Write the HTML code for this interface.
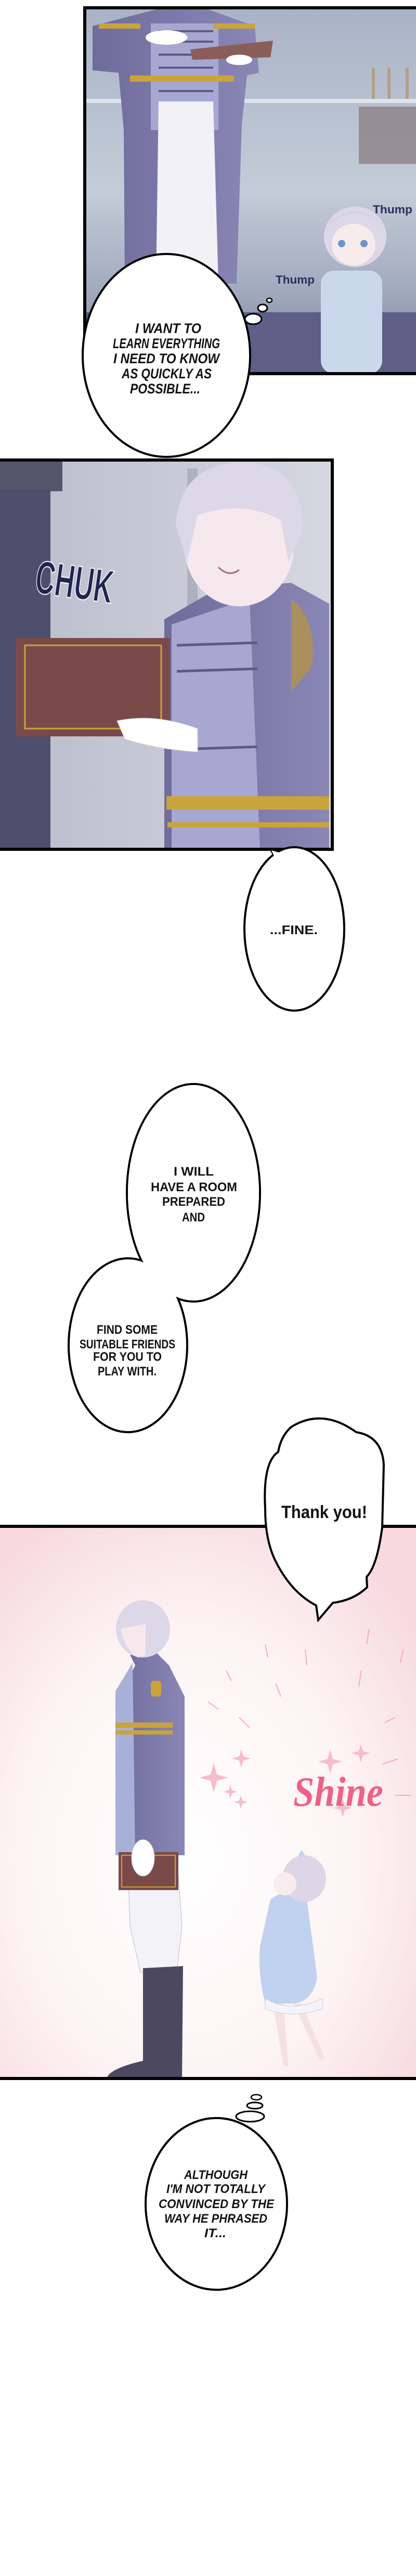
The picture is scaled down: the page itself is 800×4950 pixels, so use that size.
<!DOCTYPE html>
<html><head><meta charset="utf-8"><style>
html,body{margin:0;padding:0;background:#fff;width:800px;height:4950px;overflow:hidden}
svg{display:block}
text{font-family:"Liberation Sans",sans-serif;font-weight:bold;fill:#111}
</style></head><body>
<svg width="800" height="4950" viewBox="0 0 800 4950" xmlns="http://www.w3.org/2000/svg">
<defs>
<linearGradient id="bg1" x1="0" y1="0" x2="0" y2="1"><stop offset="0" stop-color="#a9b3c6"/><stop offset="0.5" stop-color="#c4ccd9"/><stop offset="0.8" stop-color="#9ea6bb"/><stop offset="1" stop-color="#6f7596"/></linearGradient>
<linearGradient id="bg2" x1="0" y1="0" x2="1" y2="0"><stop offset="0" stop-color="#b8bccb"/><stop offset="1" stop-color="#d6d8e0"/></linearGradient>
<radialGradient id="bg3" cx="0.45" cy="0.6" r="0.7"><stop offset="0" stop-color="#ffffff"/><stop offset="0.6" stop-color="#fdf3f4"/><stop offset="1" stop-color="#f7d9de"/></radialGradient>
<linearGradient id="coat" x1="0" y1="0" x2="1" y2="0"><stop offset="0" stop-color="#6f6c9c"/><stop offset="1" stop-color="#8a87b6"/></linearGradient>
</defs>

<!-- Panel 1 -->
<rect x="163" y="15" width="640" height="703" fill="url(#bg1)"/>
<rect x="163" y="190" width="640" height="8" fill="#dfe3ea"/>
<g fill="#b59f88"><rect x="715" y="130" width="6" height="60"/><rect x="745" y="130" width="6" height="60"/><rect x="780" y="130" width="6" height="60"/></g>
<rect x="690" y="205" width="110" height="110" fill="#7b6a6a" opacity="0.6"/>
<rect x="163" y="600" width="640" height="118" fill="#5e5f86"/>
<!-- man panel1 -->
<path d="M178 50 L300 18 L400 18 L490 50 L498 140 L475 145 L465 240 L455 545 L240 545 L238 250 L228 140 L178 135 Z" fill="url(#coat)"/>
<path d="M290 45 L420 45 L420 250 L290 250 Z" fill="#a7a8d2"/>
<g fill="#c9a43a"><rect x="250" y="145" width="200" height="12"/><rect x="190" y="45" width="80" height="10"/><rect x="410" y="45" width="80" height="10"/></g>
<g stroke="#5d5a85" stroke-width="4"><line x1="305" y1="60" x2="410" y2="60"/><line x1="305" y1="80" x2="410" y2="80"/><line x1="305" y1="105" x2="410" y2="105"/><line x1="305" y1="130" x2="410" y2="130"/><line x1="305" y1="175" x2="410" y2="175"/></g>
<path d="M305 195 L410 195 L420 545 L300 545 Z" fill="#f2f1f6"/>
<path d="M366 95 L525 78 L520 110 L370 115 Z" fill="#8a5e58"/>
<ellipse cx="320" cy="72" rx="40" ry="14" fill="#fff"/>
<ellipse cx="460" cy="115" rx="25" ry="10" fill="#fff"/>
<!-- girl -->
<rect x="617" y="520" width="118" height="198" rx="25" fill="#cad8ec"/>
<ellipse cx="683" cy="455" rx="60" ry="58" fill="#ddd8e8"/>
<ellipse cx="680" cy="470" rx="42" ry="40" fill="#f7ebec"/>
<path d="M625 440 Q683 380 745 440 Q720 410 683 405 Q645 410 625 440Z" fill="#d4cfe2"/>
<circle cx="657" cy="468" r="7" fill="#6d94c8"/><circle cx="700" cy="468" r="7" fill="#6d94c8"/>
<rect x="163" y="15" width="640" height="703" fill="none" stroke="#000" stroke-width="6"/>
<text x="530" y="545" font-size="22" style="fill:#2a2e5a" textLength="75" lengthAdjust="spacingAndGlyphs">Thump</text>
<text x="717" y="410" font-size="22" style="fill:#2a2e5a" textLength="76" lengthAdjust="spacingAndGlyphs">Thump</text>

<!-- Bubble 1 -->
<ellipse cx="320" cy="683" rx="161" ry="195" fill="#fff" stroke="#000" stroke-width="4"/>
<ellipse cx="487" cy="613" rx="16" ry="10" fill="#fff" stroke="#000" stroke-width="3"/>
<ellipse cx="505" cy="592" rx="9" ry="7" fill="#fff" stroke="#000" stroke-width="3"/>
<ellipse cx="518" cy="577" rx="5" ry="4" fill="#fff" stroke="#000" stroke-width="2.5"/>
<g font-style="italic" font-size="27" text-anchor="start">
<text x="260" y="640" textLength="127" lengthAdjust="spacingAndGlyphs">I WANT TO</text>
<text x="217" y="669" textLength="206" lengthAdjust="spacingAndGlyphs">LEARN EVERYTHING</text>
<text x="218" y="698" textLength="204" lengthAdjust="spacingAndGlyphs">I NEED TO KNOW</text>
<text x="234" y="727" textLength="173" lengthAdjust="spacingAndGlyphs">AS QUICKLY AS</text>
<text x="250" y="756" textLength="135" lengthAdjust="spacingAndGlyphs">POSSIBLE...</text>
</g>

<!-- Panel 2 -->
<rect x="-5" y="884" width="644" height="748" fill="url(#bg2)"/>
<rect x="0" y="884" width="120" height="60" fill="#55566e"/>
<rect x="0" y="940" width="97" height="692" fill="#4e4f6c"/>
<rect x="360" y="900" width="20" height="732" fill="#aeb1c0"/>
<path d="M316 1190 L420 1130 L560 1120 L633 1160 L633 1632 L316 1632 Z" fill="url(#coat)"/>
<path d="M330 1200 L480 1150 L500 1632 L330 1632 Z" fill="#a7a8d2"/>
<g fill="#c9a43a"><rect x="320" y="1530" width="313" height="26"/><rect x="322" y="1580" width="311" height="10"/></g>
<g stroke="#5d5a85" stroke-width="5"><line x1="340" y1="1240" x2="495" y2="1235"/><line x1="340" y1="1290" x2="495" y2="1285"/><line x1="340" y1="1440" x2="495" y2="1435"/></g>
<path d="M560 1150 Q610 1190 600 1280 L560 1330 Z" fill="#b9953a" opacity="0.7"/>
<ellipse cx="460" cy="1050" rx="105" ry="115" fill="#f6e9ee"/>
<path d="M338 1010 Q345 890 470 888 Q585 895 582 1020 L555 1080 L540 1000 Q470 960 380 990 L360 1080 Z" fill="#dcd8e8"/>
<path d="M420 1090 Q440 1110 460 1095" stroke="#a56a78" stroke-width="3" fill="none"/>
<rect x="31" y="1226" width="296" height="189" fill="#7a4a4a"/>
<rect x="48" y="1240" width="262" height="160" fill="none" stroke="#c9a43a" stroke-width="3"/>
<path d="M225 1385 Q300 1370 380 1400 L380 1445 Q300 1440 240 1420 Z" fill="#fff" stroke="#ccc" stroke-width="1"/>
<rect x="-5" y="884" width="644" height="748" fill="none" stroke="#000" stroke-width="6"/>
<text x="71" y="1150" font-size="90" style="fill:#1f2550;stroke:#fff;stroke-width:2" font-weight="normal" textLength="150" lengthAdjust="spacingAndGlyphs" transform="rotate(8 150 1100)">CHUK</text>

<!-- Bubble FINE with tail -->
<path d="M520 1632 L535 1660 L548 1640 Z" fill="#fff" stroke="#000" stroke-width="3"/>
<ellipse cx="566" cy="1785" rx="96" ry="157" fill="#fff" stroke="#000" stroke-width="4"/>
<path d="M522 1634 L536 1664 L550 1642 Z" fill="#fff"/>
<text x="519" y="1795" font-size="24" textLength="92" lengthAdjust="spacingAndGlyphs">...FINE.</text>

<!-- Double bubble -->
<ellipse cx="372" cy="2292" rx="128" ry="209" fill="#fff" stroke="#000" stroke-width="4"/>
<ellipse cx="246" cy="2585" rx="114" ry="167" fill="#fff" stroke="#000" stroke-width="4"/>
<ellipse cx="372" cy="2292" rx="126" ry="207" fill="#fff"/>
<g font-size="24">
<text x="334" y="2259" textLength="77" lengthAdjust="spacingAndGlyphs">I WILL</text>
<text x="290" y="2289" textLength="166" lengthAdjust="spacingAndGlyphs">HAVE A ROOM</text>
<text x="312" y="2317" textLength="121" lengthAdjust="spacingAndGlyphs">PREPARED</text>
<text x="350" y="2347" textLength="44" lengthAdjust="spacingAndGlyphs">AND</text>
<text x="186" y="2563" textLength="117" lengthAdjust="spacingAndGlyphs">FIND SOME</text>
<text x="153" y="2591" textLength="184" lengthAdjust="spacingAndGlyphs">SUITABLE FRIENDS</text>
<text x="179" y="2615" textLength="132" lengthAdjust="spacingAndGlyphs">FOR YOU TO</text>
<text x="188" y="2643" textLength="113" lengthAdjust="spacingAndGlyphs">PLAY WITH.</text>
</g>

<!-- Panel 3 -->
<rect x="0" y="2933" width="800" height="1061" fill="url(#bg3)"/>
<g stroke="#f0a0a8" stroke-width="2" opacity="0.8">
<line x1="510" y1="3160" x2="515" y2="3185"/><line x1="587" y1="3170" x2="590" y2="3200"/><line x1="710" y1="3130" x2="705" y2="3160"/><line x1="775" y1="3170" x2="770" y2="3195"/>
<line x1="435" y1="3210" x2="445" y2="3230"/><line x1="530" y1="3235" x2="540" y2="3260"/><line x1="695" y1="3210" x2="690" y2="3240"/><line x1="400" y1="3270" x2="420" y2="3285"/>
<line x1="460" y1="3300" x2="480" y2="3320"/><line x1="740" y1="3310" x2="760" y2="3300"/><line x1="735" y1="3390" x2="765" y2="3380"/><line x1="760" y1="3450" x2="790" y2="3450"/>
</g>
<g fill="#f7bccb">
<path d="M405 3410 l6 -22 l6 22 l22 6 l-22 6 l-6 22 l-6 -22 l-22 -6 z"/>
<path d="M460 3375 l4 -14 l4 14 l14 4 l-14 4 l-4 14 l-4 -14 l-14 -4 z"/>
<path d="M630 3380 l5 -18 l5 18 l18 5 l-18 5 l-5 18 l-5 -18 l-18 -5 z"/>
<path d="M690 3365 l4 -14 l4 14 l14 4 l-14 4 l-4 14 l-4 -14 l-14 -4 z"/>
<path d="M655 3470 l4 -14 l4 14 l14 4 l-14 4 l-4 14 l-4 -14 l-14 -4 z"/>
<path d="M440 3440 l3 -10 l3 10 l10 3 l-10 3 l-3 10 l-3 -10 l-10 -3 z"/>
<path d="M460 3460 l3 -10 l3 10 l10 3 l-10 3 l-3 10 l-3 -10 l-10 -3 z"/>
</g>
<path d="M250 3180 L300 3175 L325 3200 L355 3260 L355 3565 L222 3565 L222 3280 L260 3200 Z" fill="url(#coat)"/>
<path d="M222 3250 L255 3195 L260 3565 L222 3565 Z" fill="#a9b0d8"/>
<rect x="222" y="3310" width="110" height="10" fill="#c9a43a"/><rect x="222" y="3325" width="110" height="8" fill="#c9a43a"/>
<rect x="290" y="3230" width="20" height="30" rx="6" fill="#c9a43a"/>
<ellipse cx="275" cy="3130" rx="52" ry="55" fill="#dcd8e8"/>
<path d="M232 3130 Q240 3170 265 3185 L280 3180 L280 3120 Z" fill="#f6e9ee"/>
<path d="M245 3565 L340 3565 L350 3700 L340 3790 L270 3790 L250 3700 Z" fill="#f3f2f8" stroke="#bdbbd0" stroke-width="1"/>
<path d="M275 3782 L352 3778 L350 3994 L205 3994 Q210 3975 275 3960 Z" fill="#4b4860"/>
<rect x="228" y="3559" width="115" height="73" fill="#7a4a4a"/><rect x="234" y="3565" width="103" height="61" fill="none" stroke="#c9a43a" stroke-width="2"/>
<ellipse cx="275" cy="3570" rx="22" ry="35" fill="#fff" stroke="#ccc" stroke-width="1"/>
<path d="M520 3650 Q560 3620 590 3650 L610 3800 Q600 3850 560 3850 L510 3850 Q495 3790 500 3740 Z" fill="#c0d2ef"/>
<path d="M545 3640 Q575 3610 590 3570 L580 3555 Q560 3590 540 3620 Z" fill="#c0d2ef"/>
<ellipse cx="585" cy="3610" rx="42" ry="45" fill="#dcd6e6"/>
<ellipse cx="548" cy="3620" rx="22" ry="22" fill="#f8ecee"/>
<path d="M525 3850 L545 3970 L555 3970 L545 3850 Z M565 3850 L615 3960 L625 3955 L580 3850 Z" fill="#f6e1e2"/>
<path d="M510 3840 Q560 3870 620 3840 L620 3860 Q560 3880 510 3860 Z" fill="#f4f4fa" stroke="#c9cde0" stroke-width="1"/>
<text x="564" y="3470" font-size="80" font-style="italic" font-weight="normal" style="fill:#ef6185;font-family:'Liberation Serif',serif" textLength="173" lengthAdjust="spacingAndGlyphs">Shine</text>
<line x1="0" y1="2933" x2="800" y2="2933" stroke="#000" stroke-width="6"/>
<line x1="0" y1="3994" x2="800" y2="3994" stroke="#000" stroke-width="6"/>

<!-- Thank you bubble -->
<path d="M560 2742 Q620 2705 685 2752 Q735 2760 738 2815 L735 2935 Q725 3010 705 3030 L706 3050 Q680 3075 640 3080 L612 3113 L608 3085 Q560 3060 530 3000 Q510 2960 510 2900 Q505 2810 535 2790 Q540 2760 560 2742 Z" fill="#fff" stroke="#000" stroke-width="4"/>
<text x="541" y="2917" font-size="34" font-weight="normal" textLength="165" lengthAdjust="spacingAndGlyphs">Thank you!</text>

<!-- Bottom thought bubble -->
<ellipse cx="416" cy="4235" rx="136" ry="165" fill="#fff" stroke="#000" stroke-width="4"/>
<ellipse cx="481" cy="4067" rx="27" ry="10" fill="#fff" stroke="#000" stroke-width="3"/>
<ellipse cx="490" cy="4046" rx="15" ry="6" fill="#fff" stroke="#000" stroke-width="3"/>
<ellipse cx="493" cy="4030" rx="10" ry="5" fill="#fff" stroke="#000" stroke-width="2.5"/>
<g font-style="italic" font-size="24">
<text x="354" y="4187" textLength="122" lengthAdjust="spacingAndGlyphs">ALTHOUGH</text>
<text x="320" y="4214" textLength="190" lengthAdjust="spacingAndGlyphs">I'M NOT TOTALLY</text>
<text x="305" y="4243" textLength="222" lengthAdjust="spacingAndGlyphs">CONVINCED BY THE</text>
<text x="316" y="4271" textLength="198" lengthAdjust="spacingAndGlyphs">WAY HE PHRASED</text>
<text x="393" y="4299" textLength="42" lengthAdjust="spacingAndGlyphs">IT...</text>
</g>
</svg>
</body></html>
